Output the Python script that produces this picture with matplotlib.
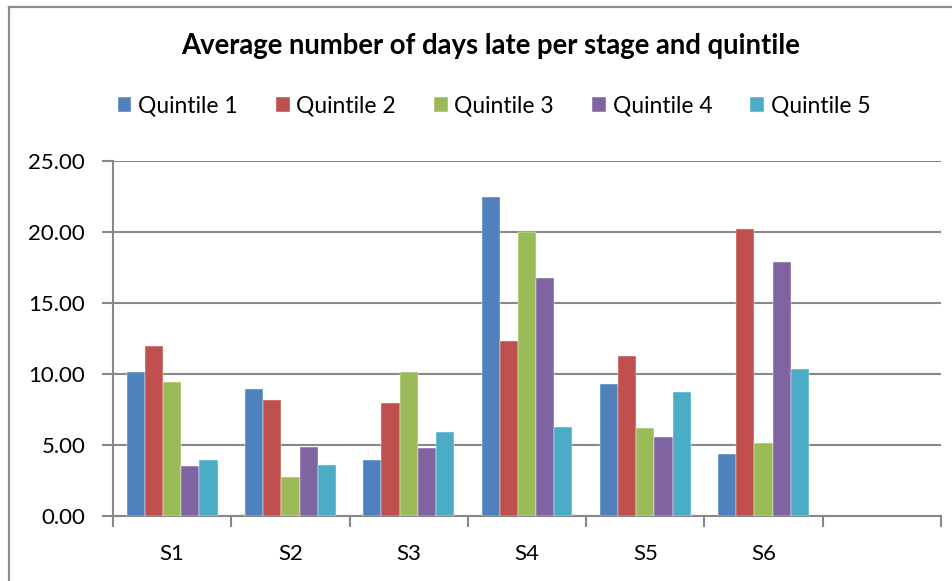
import matplotlib
matplotlib.use("Agg")
import matplotlib.pyplot as plt
from matplotlib.lines import Line2D
import numpy as np

plt.rcParams['font.family'] = ['Lato', 'DejaVu Sans']

stages = ["S1", "S2", "S3", "S4", "S5", "S6"]
series_names = ["Quintile 1", "Quintile 2", "Quintile 3", "Quintile 4", "Quintile 5"]
quintile_1 = [10.12, 8.94, 3.92, 22.49, 9.32, 4.34]
quintile_2 = [11.95, 8.17, 7.93, 12.32, 11.24, 20.21]
quintile_3 = [9.41, 2.72, 10.12, 20.00, 6.17, 5.12]
quintile_4 = [3.54, 4.88, 4.81, 16.76, 5.59, 17.89]
quintile_5 = [3.94, 3.62, 5.92, 6.27, 8.76, 10.35]
y_ticks = [0, 5, 10, 15, 20, 25]

colors = ["#4F81BD", "#C0504D", "#9BBB59", "#8064A2", "#4BACC6"]
grid_color = "#888888"

W, H = 953, 581
fig = plt.figure(figsize=(W / 100, H / 100), dpi=100)
fig.patch.set_facecolor("white")

# chart frame (top and left edges)
fig.add_artist(Line2D([9 / W, 1.0], [1 - 7 / H, 1 - 7 / H], color="#8c8c8c", lw=1.6))
fig.add_artist(Line2D([9 / W, 9 / W], [0, 1 - 7 / H], color="#8c8c8c", lw=1.6))

left, right, top, bottom = 113, 941, 161, 516
ax = fig.add_axes([left / W, (H - bottom) / H, (right - left) / W, (bottom - top) / H])

n_slots = 7
n_series = 5
bar_w = 1 / (n_series + 1.5)
x = np.arange(len(stages)) + 0.5
all_series = [quintile_1, quintile_2, quintile_3, quintile_4, quintile_5]
for k, (vals, name, c) in enumerate(zip(all_series, series_names, colors)):
    ax.bar(x + (k - 2) * bar_w, vals, width=bar_w, color=c, label=name,
           edgecolor="white", linewidth=0.3, zorder=3)

ax.set_xlim(0, n_slots)
ax.set_ylim(0, 25)
ax.set_yticks(y_ticks)
ax.set_yticklabels([f"{v:.2f}" for v in y_ticks], fontsize=16)
ax.set_xticks(np.arange(n_slots + 1))
ax.set_xticklabels([])
ax.set_xticks(x, minor=True)
ax.set_xticklabels(stages, minor=True, fontsize=16)
ax.tick_params(axis="x", which="minor", length=0, pad=20)
ax.tick_params(axis="x", which="major", direction="out", length=8, width=1.5, color=grid_color)
ax.tick_params(axis="y", direction="out", length=8, width=1.5, color=grid_color, pad=12)

ax.grid(axis="y", color=grid_color, linewidth=1.5, zorder=0)
for side in ["top", "right"]:
    ax.spines[side].set_visible(False)
for side in ["left", "bottom"]:
    ax.spines[side].set_color(grid_color)
    ax.spines[side].set_linewidth(1.5)
ax.set_axisbelow(True)

fig.text(491 / W, 1 - 46 / H, "Average number of days late per stage and quintile",
         ha="center", va="center", fontsize=19.8, fontweight="bold")

handles, labels = ax.get_legend_handles_labels()
fig.legend(handles, labels, loc="center", bbox_to_anchor=(494 / W, 1 - 106 / H),
           ncol=5, frameon=False, fontsize=16.5, handlelength=0.6, handleheight=0.6,
           handletextpad=0.3, columnspacing=1.65)

fig.savefig("out.png", dpi=100, facecolor="white")
